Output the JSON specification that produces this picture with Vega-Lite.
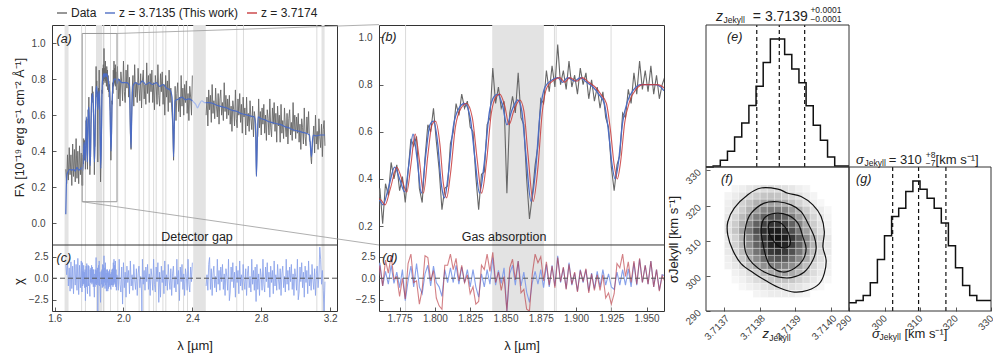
{
"$schema":"https://vega.github.io/schema/vega-lite/v6.json",
"background":"white",
"padding":{"left":11,"top":6,"right":0,"bottom":2},
"config":{
 "font":"Liberation Sans",
 "view":{"stroke":"#333","strokeWidth":1},
 "axis":{"domain":false,"grid":false,"ticks":true,"tickSize":-4,"tickColor":"#333","tickWidth":0.8,"labelFont":"Liberation Sans","labelFontSize":10,"labelColor":"#444","labelPadding":11,"titleFont":"Liberation Sans","titleFontWeight":"normal","titleFontSize":13,"titleColor":"#222"},
 "axisX":{"labelPadding":6},
 "text":{"font":"Liberation Sans","color":"#222"}
},
"datasets":{
"bands":[{"l":1.658,"l2":1.681},{"l":1.8406,"l2":1.8772},{"l":2.405,"l2":2.478},{"l":3.15,"l2":3.168}],
"vl":[{"l":1.757},{"l":1.7792},{"l":1.8847},{"l":1.8859},{"l":1.9248},{"l":1.967},{"l":2.01},{"l":2.091},{"l":2.117},{"l":2.149},{"l":2.175},{"l":2.19},{"l":2.229},{"l":2.246},{"l":2.32},{"l":2.349},{"l":2.372},{"l":2.658},{"l":2.697},{"l":3.123}],
"spec":[
{"l":1.665,"f":0.30},{"l":1.67,"f":0.22},{"l":1.675,"f":0.38},{"l":1.68,"f":0.24},{"l":1.685,"f":0.42},{"l":1.69,"f":0.27},{"l":1.695,"f":0.38},{"l":1.7,"f":0.21},{"l":1.705,"f":0.44},{"l":1.71,"f":0.26},{"l":1.715,"f":0.41},{"l":1.72,"f":0.23},{"l":1.725,"f":0.47},{"l":1.73,"f":0.25},{"l":1.735,"f":0.40},{"l":1.74,"f":0.22},{"l":1.745,"f":0.43},{"l":1.75,"f":0.27},{"l":1.755,"f":0.39},{"l":1.7595,"f":0.21},
{"l":1.761,"f":0.36},{"l":1.763,"f":0.21},{"l":1.765,"f":0.38},{"l":1.767,"f":0.33},{"l":1.769,"f":0.47},{"l":1.771,"f":0.40},{"l":1.773,"f":0.46},{"l":1.775,"f":0.35},{"l":1.777,"f":0.41},{"l":1.779,"f":0.30},
{"l":1.781,"f":0.43},{"l":1.783,"f":0.57},{"l":1.785,"f":0.54},{"l":1.787,"f":0.58},{"l":1.789,"f":0.36},{"l":1.791,"f":0.30},{"l":1.793,"f":0.49},{"l":1.795,"f":0.63},{"l":1.797,"f":0.60},{"l":1.799,"f":0.70},
{"l":1.801,"f":0.56},{"l":1.803,"f":0.44},{"l":1.805,"f":0.27},{"l":1.807,"f":0.36},{"l":1.809,"f":0.37},{"l":1.811,"f":0.55},{"l":1.813,"f":0.60},{"l":1.815,"f":0.72},{"l":1.817,"f":0.67},{"l":1.819,"f":0.76},
{"l":1.821,"f":0.70},{"l":1.823,"f":0.73},{"l":1.825,"f":0.62},{"l":1.827,"f":0.60},{"l":1.829,"f":0.41},{"l":1.831,"f":0.27},{"l":1.833,"f":0.42},{"l":1.835,"f":0.43},{"l":1.837,"f":0.63},{"l":1.839,"f":0.66},
{"l":1.841,"f":0.87},{"l":1.843,"f":0.72},{"l":1.845,"f":0.79},{"l":1.847,"f":0.70},{"l":1.849,"f":0.73},{"l":1.851,"f":0.34},{"l":1.853,"f":0.68},{"l":1.855,"f":0.75},{"l":1.857,"f":0.68},{"l":1.859,"f":0.85},
{"l":1.861,"f":0.66},{"l":1.863,"f":0.63},{"l":1.865,"f":0.40},{"l":1.867,"f":0.23},{"l":1.869,"f":0.33},{"l":1.871,"f":0.46},{"l":1.873,"f":0.54},{"l":1.875,"f":0.74},{"l":1.877,"f":0.72},{"l":1.879,"f":0.86},
{"l":1.881,"f":0.77},{"l":1.883,"f":0.88},{"l":1.885,"f":0.79},{"l":1.887,"f":0.97},{"l":1.889,"f":0.80},{"l":1.891,"f":0.86},{"l":1.893,"f":0.78},{"l":1.895,"f":0.90},{"l":1.897,"f":0.79},{"l":1.899,"f":0.84},
{"l":1.901,"f":0.76},{"l":1.903,"f":0.87},{"l":1.905,"f":0.80},{"l":1.907,"f":0.85},{"l":1.909,"f":0.74},{"l":1.911,"f":0.82},{"l":1.913,"f":0.73},{"l":1.915,"f":0.79},{"l":1.917,"f":0.70},{"l":1.919,"f":0.77},
{"l":1.921,"f":0.66},{"l":1.923,"f":0.62},{"l":1.925,"f":0.45},{"l":1.927,"f":0.35},{"l":1.929,"f":0.46},{"l":1.931,"f":0.50},{"l":1.933,"f":0.68},{"l":1.935,"f":0.66},{"l":1.937,"f":0.78},{"l":1.939,"f":0.72},
{"l":1.941,"f":0.85},{"l":1.943,"f":0.76},{"l":1.945,"f":0.90},{"l":1.947,"f":0.78},{"l":1.949,"f":0.86},{"l":1.951,"f":0.77},{"l":1.953,"f":0.88},{"l":1.955,"f":0.76},{"l":1.957,"f":0.84},{"l":1.959,"f":0.74},{"l":1.961,"f":0.80},
{"l":1.965,"f":0.87},{"l":1.97,"f":0.69},{"l":1.975,"f":0.80},{"l":1.98,"f":0.65},{"l":1.985,"f":0.84},{"l":1.99,"f":0.78},{"l":1.995,"f":0.68},{"l":2.0,"f":0.90},{"l":2.005,"f":0.73},{"l":2.01,"f":0.67},
{"l":2.015,"f":0.85},{"l":2.02,"f":0.75},{"l":2.025,"f":0.88},{"l":2.03,"f":0.70},{"l":2.035,"f":0.81},{"l":2.04,"f":0.50},{"l":2.044,"f":0.41},{"l":2.048,"f":0.60},{"l":2.05,"f":0.73},{"l":2.055,"f":0.82},
{"l":2.06,"f":0.65},{"l":2.065,"f":0.88},{"l":2.07,"f":0.70},{"l":2.075,"f":0.78},{"l":2.08,"f":0.67},{"l":2.085,"f":0.86},{"l":2.09,"f":0.75},{"l":2.095,"f":0.68},{"l":2.1,"f":0.83},{"l":2.105,"f":0.64},
{"l":2.11,"f":0.79},{"l":2.115,"f":0.85},{"l":2.12,"f":0.69},{"l":2.125,"f":0.77},{"l":2.13,"f":0.66},{"l":2.135,"f":0.89},{"l":2.14,"f":0.72},{"l":2.145,"f":0.82},{"l":2.15,"f":0.67},{"l":2.155,"f":0.83},
{"l":2.16,"f":0.73},{"l":2.165,"f":0.85},{"l":2.17,"f":0.67},{"l":2.175,"f":0.78},{"l":2.18,"f":0.63},{"l":2.185,"f":0.82},{"l":2.19,"f":0.76},{"l":2.195,"f":0.66},{"l":2.2,"f":0.88},{"l":2.205,"f":0.71},
{"l":2.21,"f":0.65},{"l":2.215,"f":0.83},{"l":2.22,"f":0.73},{"l":2.225,"f":0.84},{"l":2.23,"f":0.66},{"l":2.235,"f":0.77},{"l":2.24,"f":0.60},{"l":2.245,"f":0.82},{"l":2.25,"f":0.70},{"l":2.255,"f":0.79},
{"l":2.26,"f":0.62},{"l":2.265,"f":0.85},{"l":2.27,"f":0.67},{"l":2.275,"f":0.75},{"l":2.28,"f":0.64},{"l":2.286,"f":0.55},{"l":2.291,"f":0.35},{"l":2.295,"f":0.52},{"l":2.3,"f":0.76},{"l":2.305,"f":0.57},
{"l":2.31,"f":0.72},{"l":2.315,"f":0.78},{"l":2.32,"f":0.62},{"l":2.325,"f":0.70},{"l":2.33,"f":0.59},{"l":2.335,"f":0.82},{"l":2.34,"f":0.65},{"l":2.345,"f":0.75},{"l":2.35,"f":0.60},{"l":2.355,"f":0.77},
{"l":2.36,"f":0.67},{"l":2.365,"f":0.79},{"l":2.37,"f":0.61},{"l":2.375,"f":0.72},{"l":2.38,"f":0.57},{"l":2.385,"f":0.76},{"l":2.39,"f":0.70},{"l":2.395,"f":0.60},{"l":2.4,"f":0.82},
{"l":2.48,"f":0.60,"s":2},{"l":2.485,"f":0.70,"s":2},{"l":2.49,"f":0.54,"s":2},{"l":2.495,"f":0.74,"s":2},{"l":2.5,"f":0.63,"s":2},{"l":2.505,"f":0.71,"s":2},{"l":2.51,"f":0.56,"s":2},{"l":2.515,"f":0.77,"s":2},{"l":2.52,"f":0.61,"s":2},{"l":2.525,"f":0.68,"s":2},
{"l":2.53,"f":0.58,"s":2},{"l":2.535,"f":0.75,"s":2},{"l":2.54,"f":0.65,"s":2},{"l":2.545,"f":0.59,"s":2},{"l":2.55,"f":0.72,"s":2},{"l":2.555,"f":0.55,"s":2},{"l":2.56,"f":0.69,"s":2},{"l":2.565,"f":0.74,"s":2},{"l":2.57,"f":0.60,"s":2},{"l":2.575,"f":0.67,"s":2},
{"l":2.58,"f":0.57,"s":2},{"l":2.585,"f":0.78,"s":2},{"l":2.59,"f":0.62,"s":2},{"l":2.595,"f":0.71,"s":2},{"l":2.6,"f":0.58,"s":2},{"l":2.605,"f":0.69,"s":2},{"l":2.61,"f":0.60,"s":2},{"l":2.615,"f":0.71,"s":2},{"l":2.62,"f":0.55,"s":2},{"l":2.625,"f":0.65,"s":2},
{"l":2.63,"f":0.51,"s":2},{"l":2.635,"f":0.68,"s":2},{"l":2.64,"f":0.63,"s":2},{"l":2.645,"f":0.54,"s":2},{"l":2.65,"f":0.74,"s":2},{"l":2.655,"f":0.58,"s":2},{"l":2.66,"f":0.53,"s":2},{"l":2.665,"f":0.69,"s":2},{"l":2.67,"f":0.60,"s":2},{"l":2.675,"f":0.72,"s":2},
{"l":2.68,"f":0.56,"s":2},{"l":2.685,"f":0.66,"s":2},{"l":2.69,"f":0.50,"s":2},{"l":2.695,"f":0.70,"s":2},{"l":2.7,"f":0.59,"s":2},{"l":2.705,"f":0.64,"s":2},{"l":2.71,"f":0.49,"s":2},{"l":2.715,"f":0.70,"s":2},{"l":2.72,"f":0.54,"s":2},{"l":2.725,"f":0.61,"s":2},
{"l":2.73,"f":0.51,"s":2},{"l":2.735,"f":0.68,"s":2},{"l":2.74,"f":0.58,"s":2},{"l":2.745,"f":0.52,"s":2},{"l":2.75,"f":0.65,"s":2},{"l":2.755,"f":0.48,"s":2},{"l":2.76,"f":0.62,"s":2},{"l":2.768,"f":0.55,"s":2},{"l":2.772,"f":0.27,"s":2},{"l":2.777,"f":0.48,"s":2},
{"l":2.78,"f":0.48,"s":2},{"l":2.785,"f":0.69,"s":2},{"l":2.79,"f":0.53,"s":2},{"l":2.795,"f":0.62,"s":2},{"l":2.8,"f":0.49,"s":2},{"l":2.805,"f":0.64,"s":2},{"l":2.81,"f":0.55,"s":2},{"l":2.815,"f":0.66,"s":2},{"l":2.82,"f":0.50,"s":2},{"l":2.825,"f":0.60,"s":2},
{"l":2.83,"f":0.46,"s":2},{"l":2.835,"f":0.63,"s":2},{"l":2.84,"f":0.58,"s":2},{"l":2.845,"f":0.49,"s":2},{"l":2.85,"f":0.69,"s":2},{"l":2.855,"f":0.53,"s":2},{"l":2.86,"f":0.48,"s":2},{"l":2.865,"f":0.64,"s":2},{"l":2.87,"f":0.55,"s":2},{"l":2.875,"f":0.67,"s":2},
{"l":2.88,"f":0.51,"s":2},{"l":2.885,"f":0.61,"s":2},{"l":2.89,"f":0.45,"s":2},{"l":2.895,"f":0.65,"s":2},{"l":2.9,"f":0.54,"s":2},{"l":2.905,"f":0.60,"s":2},{"l":2.91,"f":0.45,"s":2},{"l":2.915,"f":0.66,"s":2},{"l":2.92,"f":0.50,"s":2},{"l":2.925,"f":0.57,"s":2},
{"l":2.93,"f":0.47,"s":2},{"l":2.935,"f":0.64,"s":2},{"l":2.94,"f":0.54,"s":2},{"l":2.945,"f":0.48,"s":2},{"l":2.95,"f":0.61,"s":2},{"l":2.955,"f":0.44,"s":2},{"l":2.96,"f":0.58,"s":2},{"l":2.965,"f":0.63,"s":2},{"l":2.97,"f":0.49,"s":2},{"l":2.975,"f":0.56,"s":2},
{"l":2.98,"f":0.46,"s":2},{"l":2.985,"f":0.67,"s":2},{"l":2.99,"f":0.51,"s":2},{"l":2.995,"f":0.60,"s":2},{"l":3.0,"f":0.47,"s":2},{"l":3.005,"f":0.59,"s":2},{"l":3.01,"f":0.50,"s":2},{"l":3.015,"f":0.61,"s":2},{"l":3.02,"f":0.45,"s":2},{"l":3.025,"f":0.55,"s":2},
{"l":3.03,"f":0.41,"s":2},{"l":3.035,"f":0.58,"s":2},{"l":3.04,"f":0.53,"s":2},{"l":3.045,"f":0.44,"s":2},{"l":3.05,"f":0.64,"s":2},{"l":3.055,"f":0.48,"s":2},{"l":3.06,"f":0.43,"s":2},{"l":3.065,"f":0.59,"s":2},{"l":3.07,"f":0.50,"s":2},{"l":3.075,"f":0.62,"s":2},
{"l":3.08,"f":0.46,"s":2},{"l":3.085,"f":0.45,"s":2},{"l":3.089,"f":0.36,"s":2},{"l":3.092,"f":0.33,"s":2},{"l":3.096,"f":0.42,"s":2},{"l":3.1,"f":0.46,"s":2},{"l":3.105,"f":0.54,"s":2},{"l":3.11,"f":0.39,"s":2},{"l":3.115,"f":0.60,"s":2},{"l":3.12,"f":0.44,"s":2},
{"l":3.125,"f":0.51,"s":2},{"l":3.13,"f":0.41,"s":2},{"l":3.135,"f":0.58,"s":2},{"l":3.14,"f":0.48,"s":2},{"l":3.145,"f":0.42,"s":2},{"l":3.15,"f":0.55,"s":2},{"l":3.155,"f":0.37,"s":2},{"l":3.16,"f":0.52,"s":2},{"l":3.165,"f":0.57,"s":2},{"l":3.17,"f":0.43,"s":2}
],
"m1":[
{"l":1.665,"f":0.05},{"l":1.668,"f":0.20},{"l":1.672,"f":0.27},{"l":1.68,"f":0.29},{"l":1.69,"f":0.30},{"l":1.7,"f":0.295},{"l":1.71,"f":0.30},{"l":1.72,"f":0.29},{"l":1.73,"f":0.31},{"l":1.74,"f":0.295},{"l":1.75,"f":0.30},
{"l":1.7604,"f":0.31},{"l":1.7632,"f":0.29},{"l":1.767,"f":0.36},{"l":1.7715,"f":0.45},{"l":1.775,"f":0.40},{"l":1.7786,"f":0.345},{"l":1.7815,"f":0.46},{"l":1.7845,"f":0.59},{"l":1.7875,"f":0.48},{"l":1.7904,"f":0.34},
{"l":1.7935,"f":0.50},{"l":1.7965,"f":0.63},{"l":1.799,"f":0.645},{"l":1.802,"f":0.55},{"l":1.8045,"f":0.38},{"l":1.8068,"f":0.32},{"l":1.8095,"f":0.42},{"l":1.813,"f":0.62},{"l":1.817,"f":0.70},{"l":1.821,"f":0.72},
{"l":1.825,"f":0.66},{"l":1.8285,"f":0.48},{"l":1.8316,"f":0.34},{"l":1.835,"f":0.47},{"l":1.8385,"f":0.68},{"l":1.842,"f":0.75},{"l":1.8445,"f":0.76},{"l":1.848,"f":0.71},{"l":1.851,"f":0.63},{"l":1.8545,"f":0.69},
{"l":1.8587,"f":0.735},{"l":1.8615,"f":0.69},{"l":1.8645,"f":0.50},{"l":1.8681,"f":0.305},{"l":1.8715,"f":0.45},{"l":1.8745,"f":0.68},{"l":1.878,"f":0.79},{"l":1.883,"f":0.82},{"l":1.887,"f":0.83},{"l":1.8905,"f":0.81},
{"l":1.894,"f":0.83},{"l":1.899,"f":0.815},{"l":1.903,"f":0.83},{"l":1.9075,"f":0.81},{"l":1.912,"f":0.79},{"l":1.916,"f":0.76},{"l":1.92,"f":0.72},{"l":1.923,"f":0.60},{"l":1.9255,"f":0.46},{"l":1.9277,"f":0.40},
{"l":1.93,"f":0.47},{"l":1.933,"f":0.64},{"l":1.9365,"f":0.73},{"l":1.941,"f":0.78},{"l":1.946,"f":0.80},{"l":1.951,"f":0.80},{"l":1.956,"f":0.80},{"l":1.96,"f":0.79},{"l":1.9625,"f":0.775},
{"l":1.97,"f":0.80},{"l":1.98,"f":0.79},{"l":1.99,"f":0.78},{"l":2.0,"f":0.78},{"l":2.02,"f":0.78},{"l":2.035,"f":0.76},{"l":2.04,"f":0.55},{"l":2.044,"f":0.42},{"l":2.048,"f":0.60},{"l":2.055,"f":0.76},
{"l":2.07,"f":0.78},{"l":2.09,"f":0.77},{"l":2.11,"f":0.79},{"l":2.13,"f":0.77},{"l":2.15,"f":0.78},{"l":2.17,"f":0.77},{"l":2.19,"f":0.78},{"l":2.21,"f":0.76},{"l":2.23,"f":0.77},{"l":2.25,"f":0.75},
{"l":2.27,"f":0.74},{"l":2.282,"f":0.70},{"l":2.288,"f":0.50},{"l":2.291,"f":0.37},{"l":2.295,"f":0.55},{"l":2.3,"f":0.68},{"l":2.32,"f":0.69},{"l":2.34,"f":0.70},{"l":2.36,"f":0.685},{"l":2.38,"f":0.69},{"l":2.4,"f":0.68},
{"l":2.478,"f":0.67,"s":2},{"l":2.5,"f":0.67,"s":2},{"l":2.52,"f":0.665,"s":2},{"l":2.54,"f":0.655,"s":2},{"l":2.56,"f":0.65,"s":2},{"l":2.58,"f":0.645,"s":2},{"l":2.6,"f":0.64,"s":2},{"l":2.62,"f":0.63,"s":2},{"l":2.64,"f":0.625,"s":2},{"l":2.66,"f":0.62,"s":2},
{"l":2.68,"f":0.61,"s":2},{"l":2.7,"f":0.605,"s":2},{"l":2.72,"f":0.60,"s":2},{"l":2.74,"f":0.595,"s":2},{"l":2.76,"f":0.59,"s":2},{"l":2.768,"f":0.50,"s":2},{"l":2.772,"f":0.26,"s":2},{"l":2.777,"f":0.45,"s":2},{"l":2.782,"f":0.59,"s":2},{"l":2.8,"f":0.58,"s":2},
{"l":2.82,"f":0.575,"s":2},{"l":2.84,"f":0.565,"s":2},{"l":2.86,"f":0.56,"s":2},{"l":2.88,"f":0.555,"s":2},{"l":2.9,"f":0.55,"s":2},{"l":2.92,"f":0.545,"s":2},{"l":2.94,"f":0.535,"s":2},{"l":2.96,"f":0.53,"s":2},{"l":2.98,"f":0.52,"s":2},{"l":3.0,"f":0.515,"s":2},
{"l":3.02,"f":0.51,"s":2},{"l":3.04,"f":0.505,"s":2},{"l":3.06,"f":0.50,"s":2},{"l":3.08,"f":0.49,"s":2},{"l":3.088,"f":0.40,"s":2},{"l":3.092,"f":0.37,"s":2},{"l":3.097,"f":0.45,"s":2},{"l":3.102,"f":0.49,"s":2},{"l":3.12,"f":0.485,"s":2},{"l":3.14,"f":0.49,"s":2},{"l":3.16,"f":0.49,"s":2},{"l":3.17,"f":0.49,"s":2}
],
"m1g":[{"l":2.4,"f":0.68},{"l":2.405,"f":0.675},{"l":2.42,"f":0.66},{"l":2.43,"f":0.64},{"l":2.44,"f":0.66},{"l":2.455,"f":0.68},{"l":2.47,"f":0.67},{"l":2.478,"f":0.67}],
"m2":[
{"l":1.758,"f":0.32},{"l":1.7619,"f":0.31},{"l":1.7647,"f":0.29},{"l":1.7685,"f":0.36},{"l":1.773,"f":0.45},{"l":1.7765,"f":0.40},{"l":1.7801,"f":0.345},{"l":1.783,"f":0.46},{"l":1.786,"f":0.59},{"l":1.789,"f":0.48},{"l":1.7919,"f":0.34},
{"l":1.795,"f":0.50},{"l":1.798,"f":0.63},{"l":1.8005,"f":0.645},{"l":1.8035,"f":0.55},{"l":1.806,"f":0.38},{"l":1.8083,"f":0.32},{"l":1.811,"f":0.42},{"l":1.8145,"f":0.62},{"l":1.8185,"f":0.70},{"l":1.8225,"f":0.72},
{"l":1.8265,"f":0.66},{"l":1.83,"f":0.48},{"l":1.8331,"f":0.34},{"l":1.8365,"f":0.47},{"l":1.84,"f":0.68},{"l":1.8435,"f":0.75},{"l":1.846,"f":0.76},{"l":1.8495,"f":0.71},{"l":1.8525,"f":0.63},{"l":1.856,"f":0.69},
{"l":1.8602,"f":0.735},{"l":1.863,"f":0.69},{"l":1.866,"f":0.50},{"l":1.8696,"f":0.305},{"l":1.873,"f":0.45},{"l":1.876,"f":0.68},{"l":1.8795,"f":0.79},{"l":1.8845,"f":0.82},{"l":1.8885,"f":0.83},{"l":1.892,"f":0.81},
{"l":1.8955,"f":0.83},{"l":1.9005,"f":0.815},{"l":1.9045,"f":0.83},{"l":1.909,"f":0.81},{"l":1.9135,"f":0.79},{"l":1.9175,"f":0.76},{"l":1.9215,"f":0.72},{"l":1.9245,"f":0.60},{"l":1.927,"f":0.46},{"l":1.9292,"f":0.40},
{"l":1.9315,"f":0.47},{"l":1.9345,"f":0.64},{"l":1.938,"f":0.73},{"l":1.9425,"f":0.78},{"l":1.9475,"f":0.80},{"l":1.9525,"f":0.80},{"l":1.9575,"f":0.80},{"l":1.9615,"f":0.79},{"l":1.964,"f":0.775}
],
"r1":[
{"l":1.665,"v":1.6},{"l":1.67,"v":0.4},{"l":1.675,"v":1.8},{"l":1.68,"v":-0.9},{"l":1.685,"v":1.2},{"l":1.69,"v":-1.5},{"l":1.695,"v":1.9},{"l":1.7,"v":-1.2},{"l":1.705,"v":1.4},{"l":1.71,"v":-1.8},
{"l":1.715,"v":2.1},{"l":1.72,"v":-0.8},{"l":1.725,"v":1.6},{"l":1.73,"v":-1.4},{"l":1.735,"v":2.3},{"l":1.74,"v":-1.9},{"l":1.745,"v":1.5},{"l":1.75,"v":-1.1},{"l":1.755,"v":2.0},{"l":1.759,"v":-1.6},
{"l":1.761,"v":1.8},{"l":1.763,"v":-0.9},{"l":1.765,"v":0.8},{"l":1.767,"v":-0.7},{"l":1.769,"v":1.5},{"l":1.771,"v":-0.6},{"l":1.773,"v":0.7},{"l":1.775,"v":-1.1},{"l":1.777,"v":1.0},{"l":1.779,"v":-2.6},
{"l":1.781,"v":-0.3},{"l":1.783,"v":1.4},{"l":1.785,"v":-1.0},{"l":1.787,"v":1.7},{"l":1.789,"v":-1.0},{"l":1.791,"v":-1.8},{"l":1.793,"v":0.5},{"l":1.795,"v":1.5},{"l":1.797,"v":-0.9},{"l":1.799,"v":1.4},
{"l":1.801,"v":-0.5},{"l":1.803,"v":-1.0},{"l":1.805,"v":-2.1},{"l":1.807,"v":1.0},{"l":1.809,"v":-0.5},{"l":1.811,"v":1.2},{"l":1.813,"v":-0.5},{"l":1.815,"v":1.5},{"l":1.817,"v":-0.7},{"l":1.819,"v":1.3},
{"l":1.821,"v":-0.5},{"l":1.823,"v":1.0},{"l":1.825,"v":-1.0},{"l":1.827,"v":1.0},{"l":1.829,"v":-1.0},{"l":1.831,"v":-2.2},{"l":1.833,"v":0.5},{"l":1.835,"v":-1.0},{"l":1.837,"v":1.0},{"l":1.839,"v":-0.7},
{"l":1.841,"v":2.4},{"l":1.843,"v":-0.8},{"l":1.845,"v":0.9},{"l":1.847,"v":-0.6},{"l":1.849,"v":1.2},{"l":1.851,"v":-3.8},{"l":1.853,"v":0.5},{"l":1.855,"v":1.5},{"l":1.857,"v":-0.8},{"l":1.859,"v":2.0},
{"l":1.861,"v":-0.9},{"l":1.863,"v":0.7},{"l":1.865,"v":-1.6},{"l":1.867,"v":-2.8},{"l":1.869,"v":-0.5},{"l":1.871,"v":0.8},{"l":1.873,"v":-0.7},{"l":1.875,"v":1.0},{"l":1.877,"v":-1.1},{"l":1.879,"v":1.6},
{"l":1.881,"v":-1.0},{"l":1.883,"v":1.5},{"l":1.885,"v":-0.9},{"l":1.887,"v":2.6},{"l":1.889,"v":-0.5},{"l":1.891,"v":1.2},{"l":1.893,"v":-1.2},{"l":1.895,"v":1.8},{"l":1.897,"v":-0.8},{"l":1.899,"v":0.6},
{"l":1.901,"v":-1.5},{"l":1.903,"v":1.0},{"l":1.905,"v":-0.5},{"l":1.907,"v":1.0},{"l":1.909,"v":-1.5},{"l":1.911,"v":0.6},{"l":1.913,"v":-1.2},{"l":1.915,"v":0.8},{"l":1.917,"v":-1.0},{"l":1.919,"v":1.0},
{"l":1.921,"v":-0.8},{"l":1.923,"v":0.5},{"l":1.925,"v":-1.0},{"l":1.927,"v":-1.3},{"l":1.929,"v":0.7},{"l":1.931,"v":-0.8},{"l":1.933,"v":1.0},{"l":1.935,"v":-0.8},{"l":1.937,"v":1.1},{"l":1.939,"v":-1.0},
{"l":1.941,"v":1.8},{"l":1.943,"v":-0.8},{"l":1.945,"v":2.2},{"l":1.947,"v":-0.5},{"l":1.949,"v":1.5},{"l":1.951,"v":-0.7},{"l":1.953,"v":2.0},{"l":1.955,"v":-1.0},{"l":1.957,"v":1.0},{"l":1.959,"v":-1.4},{"l":1.961,"v":0.4},
{"l":1.965,"v":0.2},{"l":1.97,"v":-1.4},{"l":1.975,"v":2.2},{"l":1.98,"v":-0.7},{"l":1.985,"v":-1.6},{"l":1.99,"v":1.3},{"l":1.995,"v":-3.0},{"l":2.0,"v":1.8},{"l":2.005,"v":-1.1},{"l":2.01,"v":0.7},
{"l":2.015,"v":-2.2},{"l":2.02,"v":1.4},{"l":2.025,"v":-0.5},{"l":2.03,"v":0.9},{"l":2.035,"v":-1.8},{"l":2.04,"v":2.0},{"l":2.045,"v":-0.9},{"l":2.05,"v":0.4},{"l":2.055,"v":-1.4},{"l":2.06,"v":1.6},
{"l":2.065,"v":-0.2},{"l":2.07,"v":-1.3},{"l":2.075,"v":1.1},{"l":2.08,"v":-2.0},{"l":2.085,"v":0.5},{"l":2.09,"v":1.4},{"l":2.095,"v":-1.1},{"l":2.1,"v":0.2},{"l":2.105,"v":-1.6},{"l":2.107,"v":-3.8},
{"l":2.11,"v":2.2},{"l":2.115,"v":-0.7},{"l":2.12,"v":0.9},{"l":2.125,"v":-1.4},{"l":2.13,"v":1.3},{"l":2.135,"v":-0.4},{"l":2.14,"v":1.6},{"l":2.145,"v":-1.3},{"l":2.15,"v":0.5},{"l":2.155,"v":-2.0},
{"l":2.16,"v":1.1},{"l":2.165,"v":0.2},{"l":2.17,"v":-1.4},{"l":2.175,"v":2.2},{"l":2.18,"v":-0.7},{"l":2.185,"v":-1.6},{"l":2.19,"v":1.3},{"l":2.195,"v":-0.4},{"l":2.2,"v":1.8},{"l":2.205,"v":-2.8},
{"l":2.21,"v":0.7},{"l":2.215,"v":-2.2},{"l":2.22,"v":1.4},{"l":2.225,"v":-0.5},{"l":2.23,"v":0.9},{"l":2.235,"v":-1.8},{"l":2.24,"v":2.0},{"l":2.245,"v":-0.9},{"l":2.25,"v":0.4},{"l":2.255,"v":-1.4},
{"l":2.26,"v":1.6},{"l":2.265,"v":-0.2},{"l":2.27,"v":-1.3},{"l":2.275,"v":1.1},{"l":2.28,"v":-2.0},{"l":2.285,"v":0.5},{"l":2.29,"v":1.4},{"l":2.295,"v":-1.1},{"l":2.3,"v":0.2},{"l":2.305,"v":-1.6},
{"l":2.31,"v":2.2},{"l":2.315,"v":-0.7},{"l":2.32,"v":0.9},{"l":2.325,"v":-2.6},{"l":2.33,"v":1.3},{"l":2.335,"v":-0.4},{"l":2.34,"v":1.6},{"l":2.345,"v":-1.3},{"l":2.35,"v":0.5},{"l":2.355,"v":-2.0},
{"l":2.36,"v":1.1},{"l":2.365,"v":0.2},{"l":2.37,"v":-1.4},{"l":2.375,"v":2.2},{"l":2.38,"v":-0.7},{"l":2.385,"v":-1.6},{"l":2.39,"v":1.3},{"l":2.395,"v":-0.4},{"l":2.4,"v":1.8},
{"l":2.48,"v":-0.9,"s":2},{"l":2.485,"v":0.4,"s":2},{"l":2.49,"v":-1.4,"s":2},{"l":2.495,"v":1.6,"s":2},{"l":2.5,"v":2.4,"s":2},{"l":2.505,"v":-1.3,"s":2},{"l":2.51,"v":1.1,"s":2},{"l":2.515,"v":-2.0,"s":2},{"l":2.52,"v":0.5,"s":2},{"l":2.525,"v":1.4,"s":2},
{"l":2.53,"v":-1.1,"s":2},{"l":2.535,"v":0.2,"s":2},{"l":2.54,"v":-1.6,"s":2},{"l":2.545,"v":2.2,"s":2},{"l":2.55,"v":-0.7,"s":2},{"l":2.555,"v":0.9,"s":2},{"l":2.56,"v":-1.4,"s":2},{"l":2.565,"v":1.3,"s":2},{"l":2.57,"v":-0.4,"s":2},{"l":2.575,"v":1.6,"s":2},
{"l":2.58,"v":-1.3,"s":2},{"l":2.585,"v":0.5,"s":2},{"l":2.59,"v":-2.0,"s":2},{"l":2.595,"v":1.1,"s":2},{"l":2.6,"v":0.2,"s":2},{"l":2.605,"v":-1.4,"s":2},{"l":2.61,"v":2.2,"s":2},{"l":2.615,"v":-2.6,"s":2},{"l":2.62,"v":-1.6,"s":2},{"l":2.625,"v":1.3,"s":2},
{"l":2.63,"v":-0.4,"s":2},{"l":2.635,"v":1.8,"s":2},{"l":2.64,"v":-1.1,"s":2},{"l":2.645,"v":0.7,"s":2},{"l":2.65,"v":-2.2,"s":2},{"l":2.655,"v":1.4,"s":2},{"l":2.66,"v":-0.5,"s":2},{"l":2.665,"v":0.9,"s":2},{"l":2.67,"v":-1.8,"s":2},{"l":2.675,"v":2.0,"s":2},
{"l":2.68,"v":-0.9,"s":2},{"l":2.685,"v":0.4,"s":2},{"l":2.69,"v":-1.4,"s":2},{"l":2.695,"v":1.6,"s":2},{"l":2.7,"v":-0.2,"s":2},{"l":2.705,"v":-1.3,"s":2},{"l":2.71,"v":1.1,"s":2},{"l":2.715,"v":-2.0,"s":2},{"l":2.72,"v":0.5,"s":2},{"l":2.725,"v":1.4,"s":2},
{"l":2.73,"v":-1.1,"s":2},{"l":2.735,"v":0.2,"s":2},{"l":2.74,"v":-1.6,"s":2},{"l":2.745,"v":2.2,"s":2},{"l":2.75,"v":-0.7,"s":2},{"l":2.755,"v":0.9,"s":2},{"l":2.76,"v":-1.4,"s":2},{"l":2.765,"v":1.3,"s":2},{"l":2.77,"v":-2.7,"s":2},{"l":2.775,"v":1.6,"s":2},
{"l":2.78,"v":-1.3,"s":2},{"l":2.785,"v":0.5,"s":2},{"l":2.79,"v":-2.0,"s":2},{"l":2.795,"v":1.1,"s":2},{"l":2.8,"v":0.2,"s":2},{"l":2.805,"v":-1.4,"s":2},{"l":2.81,"v":2.2,"s":2},{"l":2.815,"v":-0.7,"s":2},{"l":2.82,"v":-1.6,"s":2},{"l":2.825,"v":1.3,"s":2},
{"l":2.83,"v":-0.4,"s":2},{"l":2.835,"v":1.8,"s":2},{"l":2.84,"v":-1.1,"s":2},{"l":2.845,"v":0.7,"s":2},{"l":2.85,"v":-2.2,"s":2},{"l":2.855,"v":1.4,"s":2},{"l":2.86,"v":-0.5,"s":2},{"l":2.865,"v":0.9,"s":2},{"l":2.87,"v":-1.8,"s":2},{"l":2.875,"v":2.0,"s":2},
{"l":2.88,"v":-0.9,"s":2},{"l":2.885,"v":0.4,"s":2},{"l":2.89,"v":-1.4,"s":2},{"l":2.895,"v":1.6,"s":2},{"l":2.9,"v":-0.2,"s":2},{"l":2.905,"v":-1.3,"s":2},{"l":2.91,"v":1.1,"s":2},{"l":2.915,"v":-2.0,"s":2},{"l":2.92,"v":0.5,"s":2},{"l":2.925,"v":1.4,"s":2},
{"l":2.93,"v":-1.1,"s":2},{"l":2.935,"v":0.2,"s":2},{"l":2.94,"v":-1.6,"s":2},{"l":2.945,"v":2.2,"s":2},{"l":2.95,"v":-0.7,"s":2},{"l":2.955,"v":0.9,"s":2},{"l":2.96,"v":-1.4,"s":2},{"l":2.965,"v":1.3,"s":2},{"l":2.97,"v":-0.4,"s":2},{"l":2.975,"v":1.6,"s":2},
{"l":2.98,"v":-1.3,"s":2},{"l":2.985,"v":0.5,"s":2},{"l":2.99,"v":-2.0,"s":2},{"l":2.995,"v":1.1,"s":2},{"l":3.0,"v":0.2,"s":2},{"l":3.005,"v":-1.4,"s":2},{"l":3.01,"v":2.2,"s":2},{"l":3.015,"v":-2.5,"s":2},{"l":3.02,"v":-1.6,"s":2},{"l":3.025,"v":1.3,"s":2},
{"l":3.03,"v":-0.4,"s":2},{"l":3.035,"v":1.8,"s":2},{"l":3.04,"v":-1.1,"s":2},{"l":3.045,"v":0.7,"s":2},{"l":3.05,"v":-2.2,"s":2},{"l":3.055,"v":1.4,"s":2},{"l":3.06,"v":-0.5,"s":2},{"l":3.065,"v":0.9,"s":2},{"l":3.07,"v":-1.8,"s":2},{"l":3.075,"v":2.0,"s":2},
{"l":3.08,"v":-0.9,"s":2},{"l":3.085,"v":0.4,"s":2},{"l":3.09,"v":-1.4,"s":2},{"l":3.095,"v":1.6,"s":2},{"l":3.1,"v":-0.2,"s":2},{"l":3.105,"v":-1.3,"s":2},{"l":3.11,"v":1.1,"s":2},{"l":3.115,"v":-2.0,"s":2},{"l":3.12,"v":0.5,"s":2},{"l":3.125,"v":1.4,"s":2},
{"l":3.13,"v":-1.1,"s":2},{"l":3.135,"v":0.2,"s":2},{"l":3.14,"v":3.6,"s":2},{"l":3.145,"v":2.2,"s":2},{"l":3.15,"v":-0.7,"s":2},{"l":3.155,"v":0.9,"s":2},{"l":3.16,"v":-1.4,"s":2},{"l":3.165,"v":-3.8,"s":2},{"l":3.17,"v":-0.4,"s":2}
],
"r2":[
{"l":1.759,"v":-1.2},{"l":1.761,"v":1.5},{"l":1.763,"v":-0.9},{"l":1.765,"v":2.1},{"l":1.767,"v":0.6},{"l":1.769,"v":2.6},{"l":1.771,"v":-0.1},{"l":1.773,"v":0.2},{"l":1.775,"v":-2.1},{"l":1.777,"v":0.0},{"l":1.779,"v":-2.4},
{"l":1.781,"v":1.7},{"l":1.783,"v":2.8},{"l":1.785,"v":-0.5},{"l":1.787,"v":-0.3},{"l":1.789,"v":-3.0},{"l":1.791,"v":-1.3},{"l":1.793,"v":2.6},{"l":1.795,"v":2.4},{"l":1.797,"v":-0.3},{"l":1.799,"v":0.9},
{"l":1.801,"v":-2.3},{"l":1.803,"v":-3.2},{"l":1.805,"v":-3.6},{"l":1.807,"v":1.5},{"l":1.809,"v":1.5},{"l":1.811,"v":2.8},{"l":1.813,"v":1.0},{"l":1.815,"v":2.3},{"l":1.817,"v":-0.3},{"l":1.819,"v":1.5},
{"l":1.821,"v":-0.5},{"l":1.823,"v":0.4},{"l":1.825,"v":-1.8},{"l":1.827,"v":-1.0},{"l":1.829,"v":-3.0},{"l":1.831,"v":-2.7},{"l":1.833,"v":1.5},{"l":1.835,"v":1.0},{"l":1.837,"v":2.8},{"l":1.839,"v":0.8},
{"l":1.841,"v":3.0},{"l":1.843,"v":-0.5},{"l":1.845,"v":0.7},{"l":1.847,"v":-1.4},{"l":1.849,"v":0.2},{"l":1.851,"v":-3.8},{"l":1.853,"v":1.2},{"l":1.855,"v":2.2},{"l":1.857,"v":-0.2},{"l":1.859,"v":2.0},
{"l":1.861,"v":-1.7},{"l":1.863,"v":-1.3},{"l":1.865,"v":-3.6},{"l":1.867,"v":-3.8},{"l":1.869,"v":0.5},{"l":1.871,"v":2.8},{"l":1.873,"v":1.8},{"l":1.875,"v":2.5},{"l":1.877,"v":-0.3},{"l":1.879,"v":1.9},
{"l":1.881,"v":-0.8},{"l":1.883,"v":1.4},{"l":1.885,"v":-1.1},{"l":1.887,"v":2.4},{"l":1.889,"v":-0.4},{"l":1.891,"v":1.3},{"l":1.893,"v":-1.3},{"l":1.895,"v":1.6},{"l":1.897,"v":-0.7},{"l":1.899,"v":0.7},
{"l":1.901,"v":-1.6},{"l":1.903,"v":0.9},{"l":1.905,"v":-0.4},{"l":1.907,"v":1.1},{"l":1.909,"v":-1.7},{"l":1.911,"v":0.5},{"l":1.913,"v":-1.4},{"l":1.915,"v":0.4},{"l":1.917,"v":-1.4},{"l":1.919,"v":0.4},
{"l":1.921,"v":-2.3},{"l":1.923,"v":-1.7},{"l":1.925,"v":-3.0},{"l":1.927,"v":-1.8},{"l":1.929,"v":1.7},{"l":1.931,"v":1.2},{"l":1.933,"v":2.8},{"l":1.935,"v":0.2},{"l":1.937,"v":1.9},{"l":1.939,"v":-0.5},
{"l":1.941,"v":2.0},{"l":1.943,"v":-0.7},{"l":1.945,"v":2.3},{"l":1.947,"v":-0.5},{"l":1.949,"v":1.5},{"l":1.951,"v":-0.7},{"l":1.953,"v":2.0},{"l":1.955,"v":-1.0},{"l":1.957,"v":1.0},{"l":1.959,"v":-1.5},{"l":1.961,"v":0.3},{"l":1.964,"v":-0.8}
],
"he":[{"z":3.71365,"c":0},{"z":3.71367,"c":3},{"z":3.71369,"c":20},{"z":3.71371,"c":47},{"z":3.71373,"c":90},{"z":3.71375,"c":132},{"z":3.71377,"c":184},{"z":3.71379,"c":242},{"z":3.71381,"c":313},{"z":3.71383,"c":383},{"z":3.71385,"c":383},{"z":3.71387,"c":337},{"z":3.71389,"c":293},{"z":3.71391,"c":252},{"z":3.71393,"c":183},{"z":3.71395,"c":125},{"z":3.71397,"c":80},{"z":3.71399,"c":30},{"z":3.71401,"c":3},{"z":3.71403,"c":3},{"z":3.71405,"c":3}],
"hg":[{"g":290,"c":25},{"g":292,"c":32},{"g":294,"c":47},{"g":296,"c":85},{"g":298,"c":155},{"g":300,"c":227},{"g":302,"c":285},{"g":304,"c":310},{"g":306,"c":360},{"g":308,"c":392},{"g":310,"c":367},{"g":312,"c":340},{"g":314,"c":310},{"g":316,"c":265},{"g":318,"c":197},{"g":320,"c":130},{"g":322,"c":77},{"g":324,"c":47},{"g":326,"c":32},{"g":328,"c":32},{"g":330,"c":32}],
"pe":[{"z":3.713792},{"z":3.713855},{"z":3.713926}],
"pg":[{"g":302.3},{"g":309.6},{"g":317.3}],
"heat":[
{"z":3.71378,"s":294,"v":0.04},{"z":3.7138,"s":294,"v":0.05},{"z":3.71382,"s":294,"v":0.07},{"z":3.71384,"s":294,"v":0.07},{"z":3.71386,"s":294,"v":0.07},{"z":3.71388,"s":294,"v":0.07},{"z":3.7139,"s":294,"v":0.05},{"z":3.71392,"s":294,"v":0.04},
{"z":3.71374,"s":296,"v":0.03},{"z":3.71376,"s":296,"v":0.05},{"z":3.71378,"s":296,"v":0.07},{"z":3.7138,"s":296,"v":0.10},{"z":3.71382,"s":296,"v":0.12},{"z":3.71384,"s":296,"v":0.13},{"z":3.71386,"s":296,"v":0.13},{"z":3.71388,"s":296,"v":0.12},{"z":3.7139,"s":296,"v":0.10},{"z":3.71392,"s":296,"v":0.07},{"z":3.71394,"s":296,"v":0.05},{"z":3.71396,"s":296,"v":0.03},
{"z":3.71372,"s":298,"v":0.03},{"z":3.71374,"s":298,"v":0.05},{"z":3.71376,"s":298,"v":0.09},{"z":3.71378,"s":298,"v":0.13},{"z":3.7138,"s":298,"v":0.17},{"z":3.71382,"s":298,"v":0.21},{"z":3.71384,"s":298,"v":0.23},{"z":3.71386,"s":298,"v":0.23},{"z":3.71388,"s":298,"v":0.21},{"z":3.7139,"s":298,"v":0.17},{"z":3.71392,"s":298,"v":0.13},{"z":3.71394,"s":298,"v":0.09},{"z":3.71396,"s":298,"v":0.05},{"z":3.71398,"s":298,"v":0.03},
{"z":3.71372,"s":300,"v":0.05},{"z":3.71374,"s":300,"v":0.08},{"z":3.71376,"s":300,"v":0.13},{"z":3.71378,"s":300,"v":0.20},{"z":3.7138,"s":300,"v":0.27},{"z":3.71382,"s":300,"v":0.32},{"z":3.71384,"s":300,"v":0.36},{"z":3.71386,"s":300,"v":0.36},{"z":3.71388,"s":300,"v":0.32},{"z":3.7139,"s":300,"v":0.27},{"z":3.71392,"s":300,"v":0.20},{"z":3.71394,"s":300,"v":0.13},{"z":3.71396,"s":300,"v":0.08},{"z":3.71398,"s":300,"v":0.05},
{"z":3.7137,"s":302,"v":0.05},{"z":3.71372,"s":302,"v":0.09},{"z":3.71374,"s":302,"v":0.15},{"z":3.71376,"s":302,"v":0.24},{"z":3.71378,"s":302,"v":0.34},{"z":3.7138,"s":302,"v":0.43},{"z":3.71382,"s":302,"v":0.50},{"z":3.71384,"s":302,"v":0.52},{"z":3.71386,"s":302,"v":0.50},{"z":3.71388,"s":302,"v":0.43},{"z":3.7139,"s":302,"v":0.34},{"z":3.71392,"s":302,"v":0.24},{"z":3.71394,"s":302,"v":0.15},{"z":3.71396,"s":302,"v":0.09},{"z":3.71398,"s":302,"v":0.05},
{"z":3.7137,"s":304,"v":0.06},{"z":3.71372,"s":304,"v":0.12},{"z":3.71374,"s":304,"v":0.20},{"z":3.71376,"s":304,"v":0.32},{"z":3.71378,"s":304,"v":0.45},{"z":3.7138,"s":304,"v":0.57},{"z":3.71382,"s":304,"v":0.66},{"z":3.71384,"s":304,"v":0.69},{"z":3.71386,"s":304,"v":0.66},{"z":3.71388,"s":304,"v":0.57},{"z":3.7139,"s":304,"v":0.45},{"z":3.71392,"s":304,"v":0.32},{"z":3.71394,"s":304,"v":0.20},{"z":3.71396,"s":304,"v":0.12},{"z":3.71398,"s":304,"v":0.06},
{"z":3.7137,"s":306,"v":0.08},{"z":3.71372,"s":306,"v":0.15},{"z":3.71374,"s":306,"v":0.25},{"z":3.71376,"s":306,"v":0.39},{"z":3.71378,"s":306,"v":0.55},{"z":3.7138,"s":306,"v":0.70},{"z":3.71382,"s":306,"v":0.81},{"z":3.71384,"s":306,"v":0.85},{"z":3.71386,"s":306,"v":0.81},{"z":3.71388,"s":306,"v":0.70},{"z":3.7139,"s":306,"v":0.55},{"z":3.71392,"s":306,"v":0.39},{"z":3.71394,"s":306,"v":0.25},{"z":3.71396,"s":306,"v":0.15},{"z":3.71398,"s":306,"v":0.08},
{"z":3.7137,"s":308,"v":0.09},{"z":3.71372,"s":308,"v":0.17},{"z":3.71374,"s":308,"v":0.28},{"z":3.71376,"s":308,"v":0.44},{"z":3.71378,"s":308,"v":0.62},{"z":3.7138,"s":308,"v":0.79},{"z":3.71382,"s":308,"v":0.91},{"z":3.71384,"s":308,"v":0.96},{"z":3.71386,"s":308,"v":0.91},{"z":3.71388,"s":308,"v":0.79},{"z":3.7139,"s":308,"v":0.62},{"z":3.71392,"s":308,"v":0.44},{"z":3.71394,"s":308,"v":0.28},{"z":3.71396,"s":308,"v":0.17},{"z":3.71398,"s":308,"v":0.09},
{"z":3.7137,"s":310,"v":0.09},{"z":3.71372,"s":310,"v":0.17},{"z":3.71374,"s":310,"v":0.30},{"z":3.71376,"s":310,"v":0.46},{"z":3.71378,"s":310,"v":0.65},{"z":3.7138,"s":310,"v":0.82},{"z":3.71382,"s":310,"v":0.95},{"z":3.71384,"s":310,"v":1.0},{"z":3.71386,"s":310,"v":0.95},{"z":3.71388,"s":310,"v":0.82},{"z":3.7139,"s":310,"v":0.65},{"z":3.71392,"s":310,"v":0.46},{"z":3.71394,"s":310,"v":0.30},{"z":3.71396,"s":310,"v":0.17},{"z":3.71398,"s":310,"v":0.09},
{"z":3.7137,"s":312,"v":0.12},{"z":3.71372,"s":312,"v":0.22},{"z":3.71374,"s":312,"v":0.36},{"z":3.71376,"s":312,"v":0.53},{"z":3.71378,"s":312,"v":0.71},{"z":3.7138,"s":312,"v":0.86},{"z":3.71382,"s":312,"v":0.95},{"z":3.71384,"s":312,"v":0.95},{"z":3.71386,"s":312,"v":0.86},{"z":3.71388,"s":312,"v":0.71},{"z":3.7139,"s":312,"v":0.53},{"z":3.71392,"s":312,"v":0.36},{"z":3.71394,"s":312,"v":0.22},{"z":3.71396,"s":312,"v":0.12},{"z":3.71398,"s":312,"v":0.06},
{"z":3.7137,"s":314,"v":0.11},{"z":3.71372,"s":314,"v":0.19},{"z":3.71374,"s":314,"v":0.32},{"z":3.71376,"s":314,"v":0.47},{"z":3.71378,"s":314,"v":0.63},{"z":3.7138,"s":314,"v":0.76},{"z":3.71382,"s":314,"v":0.84},{"z":3.71384,"s":314,"v":0.84},{"z":3.71386,"s":314,"v":0.76},{"z":3.71388,"s":314,"v":0.63},{"z":3.7139,"s":314,"v":0.47},{"z":3.71392,"s":314,"v":0.32},{"z":3.71394,"s":314,"v":0.19},{"z":3.71396,"s":314,"v":0.11},{"z":3.71398,"s":314,"v":0.05},
{"z":3.7137,"s":316,"v":0.09},{"z":3.71372,"s":316,"v":0.16},{"z":3.71374,"s":316,"v":0.26},{"z":3.71376,"s":316,"v":0.38},{"z":3.71378,"s":316,"v":0.51},{"z":3.7138,"s":316,"v":0.62},{"z":3.71382,"s":316,"v":0.69},{"z":3.71384,"s":316,"v":0.69},{"z":3.71386,"s":316,"v":0.62},{"z":3.71388,"s":316,"v":0.51},{"z":3.7139,"s":316,"v":0.38},{"z":3.71392,"s":316,"v":0.26},{"z":3.71394,"s":316,"v":0.16},{"z":3.71396,"s":316,"v":0.09},{"z":3.71398,"s":316,"v":0.04},
{"z":3.7137,"s":318,"v":0.07},{"z":3.71372,"s":318,"v":0.12},{"z":3.71374,"s":318,"v":0.19},{"z":3.71376,"s":318,"v":0.29},{"z":3.71378,"s":318,"v":0.38},{"z":3.7138,"s":318,"v":0.47},{"z":3.71382,"s":318,"v":0.51},{"z":3.71384,"s":318,"v":0.51},{"z":3.71386,"s":318,"v":0.47},{"z":3.71388,"s":318,"v":0.38},{"z":3.7139,"s":318,"v":0.29},{"z":3.71392,"s":318,"v":0.19},{"z":3.71394,"s":318,"v":0.12},{"z":3.71396,"s":318,"v":0.07},{"z":3.71398,"s":318,"v":0.03},
{"z":3.7137,"s":320,"v":0.06},{"z":3.71372,"s":320,"v":0.11},{"z":3.71374,"s":320,"v":0.17},{"z":3.71376,"s":320,"v":0.23},{"z":3.71378,"s":320,"v":0.30},{"z":3.7138,"s":320,"v":0.34},{"z":3.71382,"s":320,"v":0.36},{"z":3.71384,"s":320,"v":0.34},{"z":3.71386,"s":320,"v":0.30},{"z":3.71388,"s":320,"v":0.23},{"z":3.7139,"s":320,"v":0.17},{"z":3.71392,"s":320,"v":0.11},{"z":3.71394,"s":320,"v":0.06},{"z":3.71396,"s":320,"v":0.03},
{"z":3.7137,"s":322,"v":0.04},{"z":3.71372,"s":322,"v":0.07},{"z":3.71374,"s":322,"v":0.11},{"z":3.71376,"s":322,"v":0.15},{"z":3.71378,"s":322,"v":0.19},{"z":3.7138,"s":322,"v":0.22},{"z":3.71382,"s":322,"v":0.23},{"z":3.71384,"s":322,"v":0.22},{"z":3.71386,"s":322,"v":0.19},{"z":3.71388,"s":322,"v":0.15},{"z":3.7139,"s":322,"v":0.11},{"z":3.71392,"s":322,"v":0.07},{"z":3.71394,"s":322,"v":0.04},
{"z":3.71372,"s":324,"v":0.04},{"z":3.71374,"s":324,"v":0.06},{"z":3.71376,"s":324,"v":0.09},{"z":3.71378,"s":324,"v":0.11},{"z":3.7138,"s":324,"v":0.13},{"z":3.71382,"s":324,"v":0.14},{"z":3.71384,"s":324,"v":0.13},{"z":3.71386,"s":324,"v":0.11},{"z":3.71388,"s":324,"v":0.09},{"z":3.7139,"s":324,"v":0.06},{"z":3.71392,"s":324,"v":0.04}
],
"cont":[
{"k":1,"o":0,"z":3.713804,"s":325.0},{"k":1,"o":1,"z":3.713851,"s":324.7},{"k":1,"o":2,"z":3.713879,"s":323.5},{"k":1,"o":3,"z":3.713916,"s":322.6},{"k":1,"o":4,"z":3.713949,"s":320.2},{"k":1,"o":5,"z":3.713972,"s":316.9},{"k":1,"o":6,"z":3.713981,"s":312.6},{"k":1,"o":7,"z":3.713977,"s":308.3},{"k":1,"o":8,"z":3.713986,"s":304.5},{"k":1,"o":9,"z":3.713981,"s":300.7},{"k":1,"o":10,"z":3.713967,"s":297.8},
{"k":1,"o":11,"z":3.713935,"s":295.9},{"k":1,"o":12,"z":3.713897,"s":295.4},{"k":1,"o":13,"z":3.71386,"s":296.4},{"k":1,"o":14,"z":3.713823,"s":298.3},{"k":1,"o":15,"z":3.713785,"s":300.7},{"k":1,"o":16,"z":3.713748,"s":303.5},{"k":1,"o":17,"z":3.713725,"s":307.3},{"k":1,"o":18,"z":3.713711,"s":311.6},{"k":1,"o":19,"z":3.713711,"s":315.4},{"k":1,"o":20,"z":3.713729,"s":319.3},{"k":1,"o":21,"z":3.713767,"s":323.1},
{"k":2,"o":0,"z":3.713776,"s":317.8},{"k":2,"o":1,"z":3.713813,"s":320.7},{"k":2,"o":2,"z":3.713851,"s":321.1},{"k":2,"o":3,"z":3.713888,"s":320.2},{"k":2,"o":4,"z":3.713916,"s":318.3},{"k":2,"o":5,"z":3.713935,"s":315.0},{"k":2,"o":6,"z":3.713953,"s":311.1},{"k":2,"o":7,"z":3.713958,"s":307.8},{"k":2,"o":8,"z":3.713949,"s":304.5},
{"k":2,"o":9,"z":3.713925,"s":301.1},{"k":2,"o":10,"z":3.713888,"s":299.5},{"k":2,"o":11,"z":3.713851,"s":299.7},{"k":2,"o":12,"z":3.713813,"s":301.1},{"k":2,"o":13,"z":3.713781,"s":303.5},{"k":2,"o":14,"z":3.713762,"s":306.4},{"k":2,"o":15,"z":3.713757,"s":310.2},{"k":2,"o":16,"z":3.713762,"s":314.5},
{"k":3,"o":0,"z":3.713813,"s":316.4},{"k":3,"o":1,"z":3.713841,"s":317.8},{"k":3,"o":2,"z":3.713879,"s":317.3},{"k":3,"o":3,"z":3.713907,"s":315.0},{"k":3,"o":4,"z":3.713921,"s":311.1},{"k":3,"o":5,"z":3.71393,"s":307.8},{"k":3,"o":6,"z":3.713921,"s":304.5},{"k":3,"o":7,"z":3.713897,"s":302.1},{"k":3,"o":8,"z":3.713865,"s":301.1},{"k":3,"o":9,"z":3.713832,"s":302.6},{"k":3,"o":10,"z":3.713818,"s":305.4},{"k":3,"o":11,"z":3.713809,"s":309.3},{"k":3,"o":12,"z":3.713804,"s":313.1},
{"k":4,"o":0,"z":3.713827,"s":315.0},{"k":4,"o":1,"z":3.713851,"s":315.4},{"k":4,"o":2,"z":3.713874,"s":313.5},{"k":4,"o":3,"z":3.713886,"s":310.2},{"k":4,"o":4,"z":3.713881,"s":308.3},{"k":4,"o":5,"z":3.71386,"s":308.1},{"k":4,"o":6,"z":3.713841,"s":309.7},{"k":4,"o":7,"z":3.713827,"s":312.1}
]
},
"bounds":"flush",
"spacing":42,
"hconcat":[
 {"width":285,"height":286,
  "resolve":{"scale":{"y":"independent"},"axis":{"y":"independent"}},
  "layer":[
  {"layer":[
   {"data":{"name":"bands"},"mark":{"type":"rect","color":"#e3e3e3"},"encoding":{"x":{"field":"l","type":"quantitative","scale":{"domain":[1.585,3.24],"nice":false,"zero":false},"axis":{"values":[1.6,1.8,2.0,2.2,2.4,2.6,2.8,3.0,3.2],"format":".1f","title":"λ  [µm]","titlePadding":16}},"x2":{"field":"l2"}}},
   {"data":{"name":"vl"},"mark":{"type":"rule","color":"#d2d2d2","strokeWidth":0.8},"encoding":{"x":{"field":"l","type":"quantitative"}}},
   {"data":{"name":"spec"},"mark":{"type":"line","strokeWidth":0.9},"encoding":{"x":{"field":"l","type":"quantitative"},"y":{"field":"f","type":"quantitative","scale":{"domain":[-0.486,1.1],"nice":false,"zero":false},"axis":{"orient":"left","values":[0,0.2,0.4,0.6,0.8,1],"format":".1f","title":"Fλ [10⁻¹⁹ erg s⁻¹ cm⁻² Å⁻¹]","titlePadding":5,"titleFontSize":12.5,"titleY":102}},"detail":{"field":"s","type":"nominal"},"color":{"datum":"Data","type":"nominal","scale":{"domain":["Data","z = 3.7135 (This work)","z = 3.7174"],"range":["#676767","#4c6cc4","#c8393b"]},"legend":{"orient":"none","legendX":4,"legendY":-18,"direction":"horizontal","title":null,"symbolType":"stroke","symbolStrokeWidth":1.6,"symbolSize":100,"labelFontSize":12,"labelColor":"#222","labelFont":"Liberation Sans","columnPadding":4,"labelOffset":3,"labelLimit":300}}}},
   {"data":{"name":"m1g"},"mark":{"type":"line","color":"#a8bbee","strokeWidth":1.2,"interpolate":"monotone"},"encoding":{"x":{"field":"l","type":"quantitative"},"y":{"field":"f","type":"quantitative"}}},
   {"data":{"name":"m1"},"mark":{"type":"line","strokeWidth":1.2,"interpolate":"monotone"},"encoding":{"x":{"field":"l","type":"quantitative"},"y":{"field":"f","type":"quantitative"},"detail":{"field":"s","type":"nominal"},"color":{"datum":"z = 3.7135 (This work)","type":"nominal"}}},
   {"data":{"values":[{}]},"mark":{"type":"rect","fillOpacity":0,"stroke":"#9a9a9a","strokeWidth":1},"encoding":{"x":{"datum":1.7604,"type":"quantitative"},"x2":{"datum":1.9623},"y":{"datum":0.12,"type":"quantitative"},"y2":{"datum":1.053}}},
   {"data":{"values":[{}]},"mark":{"type":"rule","color":"#9a9a9a","strokeWidth":0.8},"encoding":{"x":{"datum":1.9623,"type":"quantitative"},"y":{"datum":1.053,"type":"quantitative"},"x2":{"datum":3.484},"y2":{"datum":1.102}}},
   {"data":{"values":[{}]},"mark":{"type":"rule","color":"#9a9a9a","strokeWidth":0.8},"encoding":{"x":{"datum":1.7604,"type":"quantitative"},"y":{"datum":0.12,"type":"quantitative"},"x2":{"datum":3.484},"y2":{"datum":-0.12}}},
   {"data":{"values":[{}]},"mark":{"type":"rule","color":"#333","strokeWidth":1},"encoding":{"y":{"datum":-0.12,"type":"quantitative"}}},
   {"data":{"values":[{}]},"mark":{"type":"text","text":"(a)","fontStyle":"italic","fontSize":12.5,"align":"left","baseline":"middle","color":"#222"},"encoding":{"x":{"datum":1.611,"type":"quantitative"},"y":{"datum":1.024,"type":"quantitative"}}},
   {"data":{"values":[{}]},"mark":{"type":"text","text":"Detector gap","fontSize":12.5,"align":"center","baseline":"middle","color":"#222"},"encoding":{"x":{"datum":2.427,"type":"quantitative"},"y":{"datum":-0.076,"type":"quantitative"}}}
  ]},
  {"layer":[
   {"data":{"name":"r1"},"mark":{"type":"line","color":"#86a0ea","strokeWidth":0.8},"encoding":{"x":{"field":"l","type":"quantitative"},"y":{"field":"v","type":"quantitative","scale":{"domain":[-3.8,29.35],"nice":false,"zero":false},"axis":{"orient":"left","values":[-2.5,0,2.5],"format":".1f","labelPadding":8,"title":"χ","titlePadding":3,"titleY":256}},"detail":{"field":"s","type":"nominal"}}},
   {"data":{"values":[{}]},"mark":{"type":"rule","color":"#555","strokeDash":[5,3],"strokeWidth":1},"encoding":{"y":{"datum":0,"type":"quantitative"}}},
   {"data":{"values":[{}]},"mark":{"type":"text","text":"(c)","fontStyle":"italic","fontSize":12.5,"align":"left","baseline":"middle","color":"#222"},"encoding":{"x":{"datum":1.611,"type":"quantitative"},"y":{"datum":2.35,"type":"quantitative"}}}
  ]}
 ]},
 {"width":285,"height":286,
  "resolve":{"scale":{"y":"independent"},"axis":{"y":"independent"}},
  "layer":[
  {"layer":[
   {"data":{"name":"bands"},"mark":{"type":"rect","color":"#e3e3e3","clip":true},"encoding":{"x":{"field":"l","type":"quantitative","scale":{"domain":[1.7604,1.9623],"nice":false,"zero":false},"axis":{"values":[1.775,1.8,1.825,1.85,1.875,1.9,1.925,1.95],"format":".3f","title":"λ  [µm]","titlePadding":16}},"x2":{"field":"l2"}}},
   {"data":{"name":"vl"},"mark":{"type":"rule","color":"#d2d2d2","strokeWidth":0.8,"clip":true},"encoding":{"x":{"field":"l","type":"quantitative"}}},
   {"data":{"name":"spec"},"mark":{"type":"line","strokeWidth":1.1,"clip":true},"encoding":{"x":{"field":"l","type":"quantitative"},"y":{"field":"f","type":"quantitative","scale":{"domain":[-0.16,1.053],"nice":false,"zero":false},"axis":{"orient":"left","values":[0.2,0.4,0.6,0.8,1],"format":".1f","title":null}},"detail":{"field":"s","type":"nominal"},"color":{"datum":"Data","type":"nominal"}}},
   {"data":{"name":"m1"},"mark":{"type":"line","strokeWidth":1.3,"interpolate":"monotone","clip":true},"encoding":{"x":{"field":"l","type":"quantitative"},"y":{"field":"f","type":"quantitative"},"detail":{"field":"s","type":"nominal"},"color":{"datum":"z = 3.7135 (This work)","type":"nominal"}}},
   {"data":{"name":"m2"},"mark":{"type":"line","strokeWidth":1.1,"interpolate":"monotone","clip":true,"opacity":0.85},"encoding":{"x":{"field":"l","type":"quantitative"},"y":{"field":"f","type":"quantitative"},"color":{"datum":"z = 3.7174","type":"nominal"}}},
   {"data":{"values":[{}]},"mark":{"type":"rule","color":"#333","strokeWidth":1},"encoding":{"y":{"datum":0.12,"type":"quantitative"}}},
   {"data":{"values":[{}]},"mark":{"type":"text","text":"(b)","fontStyle":"italic","fontSize":12.5,"align":"left","baseline":"middle","color":"#222"},"encoding":{"x":{"datum":1.762,"type":"quantitative"},"y":{"datum":1.0,"type":"quantitative"}}},
   {"data":{"values":[{}]},"mark":{"type":"text","text":"Gas absorption","fontSize":12.5,"align":"center","baseline":"middle","color":"#222"},"encoding":{"x":{"datum":1.849,"type":"quantitative"},"y":{"datum":0.152,"type":"quantitative"}}}
  ]},
  {"layer":[
   {"data":{"name":"r1"},"mark":{"type":"line","color":"#86a0ea","strokeWidth":1.1,"clip":true},"encoding":{"x":{"field":"l","type":"quantitative"},"y":{"field":"v","type":"quantitative","scale":{"domain":[-3.8,29.35],"nice":false,"zero":false},"axis":{"orient":"left","values":[-2.5,0,2.5],"format":".1f","labelPadding":8,"title":null}},"detail":{"field":"s","type":"nominal"}}},
   {"data":{"name":"r2"},"mark":{"type":"line","color":"#b8323a","strokeWidth":1.1,"opacity":0.62,"clip":true},"encoding":{"x":{"field":"l","type":"quantitative"},"y":{"field":"v","type":"quantitative"}}},
   {"data":{"values":[{}]},"mark":{"type":"rule","color":"#555","strokeDash":[5,3],"strokeWidth":1},"encoding":{"y":{"datum":0,"type":"quantitative"}}},
   {"data":{"values":[{}]},"mark":{"type":"text","text":"(d)","fontStyle":"italic","fontSize":12.5,"align":"left","baseline":"middle","color":"#222"},"encoding":{"x":{"datum":1.7627,"type":"quantitative"},"y":{"datum":2.35,"type":"quantitative"}}}
  ]}
 ]},
 {"width":285,"height":286,
  "view":{"stroke":null},
  "resolve":{"scale":{"x":"independent","y":"independent"},"axis":{"x":"independent","y":"independent"}},
  "layer":[
  {"layer":[
   {"data":{"name":"he"},"mark":{"type":"line","interpolate":"step-after","color":"#111","strokeWidth":1.5},"encoding":{"x":{"field":"z","type":"quantitative","scale":{"domain":[3.71365,3.7144472],"nice":false,"zero":false},"axis":null},"y":{"field":"c","type":"quantitative","scale":{"domain":[-431,425],"nice":false,"zero":false},"axis":null}}},
   {"data":{"name":"pe"},"mark":{"type":"rule","color":"#111","strokeDash":[4,3],"strokeWidth":1.2},"encoding":{"x":{"field":"z","type":"quantitative"},"y":{"datum":0,"type":"quantitative"},"y2":{"datum":425}}},
   {"data":{"values":[{}]},"mark":{"type":"rect","fillOpacity":0,"stroke":"#333","strokeWidth":1},"encoding":{"x":{"datum":3.71365,"type":"quantitative"},"x2":{"datum":3.71405},"y":{"datum":0,"type":"quantitative"},"y2":{"datum":425}}},
   {"data":{"values":[{}]},"mark":{"type":"text","text":"(e)","fontStyle":"italic","fontSize":12.5,"align":"left","baseline":"middle","color":"#222"},"encoding":{"x":{"datum":3.713709,"type":"quantitative"},"y":{"datum":390,"type":"quantitative"}}},
   {"data":{"values":[{}]},"mark":{"type":"text","text":"z","fontStyle":"italic","fontSize":14,"align":"left","baseline":"alphabetic","color":"#222"},"encoding":{"x":{"datum":3.713678,"type":"quantitative"},"y":{"datum":438,"type":"quantitative"}}},
   {"data":{"values":[{}]},"mark":{"type":"text","text":"Jekyll","fontSize":8.5,"align":"left","baseline":"alphabetic","color":"#222"},"encoding":{"x":{"datum":3.713699,"type":"quantitative"},"y":{"datum":432,"type":"quantitative"}}},
   {"data":{"values":[{}]},"mark":{"type":"text","text":"= 3.7139","fontSize":14,"align":"left","baseline":"alphabetic","color":"#222"},"encoding":{"x":{"datum":3.713781,"type":"quantitative"},"y":{"datum":438,"type":"quantitative"}}},
   {"data":{"values":[{}]},"mark":{"type":"text","text":"+0.0001","fontSize":8.5,"align":"left","baseline":"alphabetic","color":"#222"},"encoding":{"x":{"datum":3.713942,"type":"quantitative"},"y":{"datum":460,"type":"quantitative"}}},
   {"data":{"values":[{}]},"mark":{"type":"text","text":"−0.0001","fontSize":8.5,"align":"left","baseline":"alphabetic","color":"#222"},"encoding":{"x":{"datum":3.713942,"type":"quantitative"},"y":{"datum":433,"type":"quantitative"}}}
  ]},
  {"layer":[
   {"data":{"name":"heat"},"mark":{"type":"rect","stroke":"#ffffff","strokeWidth":0.4,"strokeOpacity":0.7},"encoding":{"x":{"field":"z","type":"quantitative","bin":{"binned":true,"step":0.00002},"scale":{"domain":[3.71365,3.7144472],"nice":false,"zero":false},"axis":{"orient":"bottom","values":[3.7137,3.7138,3.7139,3.714],"format":".4f","labelAngle":-45,"title":null}},"y":{"field":"s","type":"quantitative","bin":{"binned":true,"step":2},"scale":{"domain":[290,371.4],"nice":false,"zero":false},"axis":{"orient":"left","values":[290,300,310,320,330],"labelAngle":-45,"title":"σJekyll [km s⁻¹]","titlePadding":3,"titleY":214}},"fill":{"field":"v","type":"quantitative","scale":{"domain":[0,1],"range":["#ffffff","#141414"]},"legend":null}}},
   {"data":{"name":"cont"},"mark":{"type":"line","interpolate":"cardinal-closed","color":"#111","strokeWidth":1.2},"encoding":{"x":{"field":"z","type":"quantitative"},"y":{"field":"s","type":"quantitative"},"detail":{"field":"k","type":"nominal"},"order":{"field":"o","type":"quantitative"}}},
   {"data":{"values":[{}]},"mark":{"type":"rect","fillOpacity":0,"stroke":"#333","strokeWidth":1},"encoding":{"x":{"datum":3.71365,"type":"quantitative"},"x2":{"datum":3.71405},"y":{"datum":290,"type":"quantitative"},"y2":{"datum":331}}},
   {"data":{"values":[{}]},"mark":{"type":"text","text":"(f)","fontStyle":"italic","fontSize":12.5,"align":"left","baseline":"middle","color":"#222"},"encoding":{"x":{"datum":3.713692,"type":"quantitative"},"y":{"datum":327.6,"type":"quantitative"}}},
   {"data":{"values":[{}]},"mark":{"type":"text","text":"z","fontStyle":"italic","fontSize":13,"align":"left","baseline":"alphabetic","color":"#222"},"encoding":{"x":{"datum":3.713808,"type":"quantitative"},"y":{"datum":282.3,"type":"quantitative"}}},
   {"data":{"values":[{}]},"mark":{"type":"text","text":"Jekyll","fontSize":8.5,"align":"left","baseline":"alphabetic","color":"#222"},"encoding":{"x":{"datum":3.713827,"type":"quantitative"},"y":{"datum":281.5,"type":"quantitative"}}}
  ]},
  {"layer":[
   {"data":{"name":"hg"},"mark":{"type":"line","interpolate":"step-after","color":"#111","strokeWidth":1.5},"encoding":{"x":{"field":"g","type":"quantitative","scale":{"domain":[249.718,330],"nice":false,"zero":false},"axis":{"orient":"bottom","values":[290,300,310,320,330],"labelAngle":-45,"labelOffset":-3,"title":null}},"y":{"field":"c","type":"quantitative","scale":{"domain":[0,862],"nice":false,"zero":false},"axis":null}}},
   {"data":{"name":"pg"},"mark":{"type":"rule","color":"#111","strokeDash":[4,3],"strokeWidth":1.2},"encoding":{"x":{"field":"g","type":"quantitative"},"y":{"datum":0,"type":"quantitative"},"y2":{"datum":434}}},
   {"data":{"values":[{}]},"mark":{"type":"rect","fillOpacity":0,"stroke":"#333","strokeWidth":1},"encoding":{"x":{"datum":290,"type":"quantitative"},"x2":{"datum":330},"y":{"datum":0,"type":"quantitative"},"y2":{"datum":434}}},
   {"data":{"values":[{}]},"mark":{"type":"text","text":"(g)","fontStyle":"italic","fontSize":12.5,"align":"left","baseline":"middle","color":"#222"},"encoding":{"x":{"datum":292,"type":"quantitative"},"y":{"datum":397,"type":"quantitative"}}},
   {"data":{"values":[{}]},"mark":{"type":"text","text":"σ","fontStyle":"italic","fontSize":13,"align":"left","baseline":"alphabetic","color":"#222"},"encoding":{"x":{"datum":292.0,"type":"quantitative"},"y":{"datum":444,"type":"quantitative"}}},
   {"data":{"values":[{}]},"mark":{"type":"text","text":"Jekyll","fontSize":8.5,"align":"left","baseline":"alphabetic","color":"#222"},"encoding":{"x":{"datum":294.4,"type":"quantitative"},"y":{"datum":438,"type":"quantitative"}}},
   {"data":{"values":[{}]},"mark":{"type":"text","text":"= 310","fontSize":13,"align":"left","baseline":"alphabetic","color":"#222"},"encoding":{"x":{"datum":301.2,"type":"quantitative"},"y":{"datum":444,"type":"quantitative"}}},
   {"data":{"values":[{}]},"mark":{"type":"text","text":"+8","fontSize":8.5,"align":"left","baseline":"alphabetic","color":"#222"},"encoding":{"x":{"datum":311.6,"type":"quantitative"},"y":{"datum":462,"type":"quantitative"}}},
   {"data":{"values":[{}]},"mark":{"type":"text","text":"−7","fontSize":8.5,"align":"left","baseline":"alphabetic","color":"#222"},"encoding":{"x":{"datum":311.6,"type":"quantitative"},"y":{"datum":437,"type":"quantitative"}}},
   {"data":{"values":[{}]},"mark":{"type":"text","text":"[km s⁻¹]","fontSize":13,"align":"left","baseline":"alphabetic","color":"#222"},"encoding":{"x":{"datum":314.4,"type":"quantitative"},"y":{"datum":444,"type":"quantitative"}}},
   {"data":{"values":[{}]},"mark":{"type":"text","text":"σ","fontStyle":"italic","fontSize":13,"align":"left","baseline":"alphabetic","color":"#222"},"encoding":{"x":{"datum":296.5,"type":"quantitative"},"y":{"datum":-81,"type":"quantitative"}}},
   {"data":{"values":[{}]},"mark":{"type":"text","text":"Jekyll","fontSize":8.5,"align":"left","baseline":"alphabetic","color":"#222"},"encoding":{"x":{"datum":298.6,"type":"quantitative"},"y":{"datum":-86,"type":"quantitative"}}},
   {"data":{"values":[{}]},"mark":{"type":"text","text":"[km s⁻¹]","fontSize":13,"align":"left","baseline":"alphabetic","color":"#222"},"encoding":{"x":{"datum":305.6,"type":"quantitative"},"y":{"datum":-81,"type":"quantitative"}}}
  ]}
 ]}
]
}
